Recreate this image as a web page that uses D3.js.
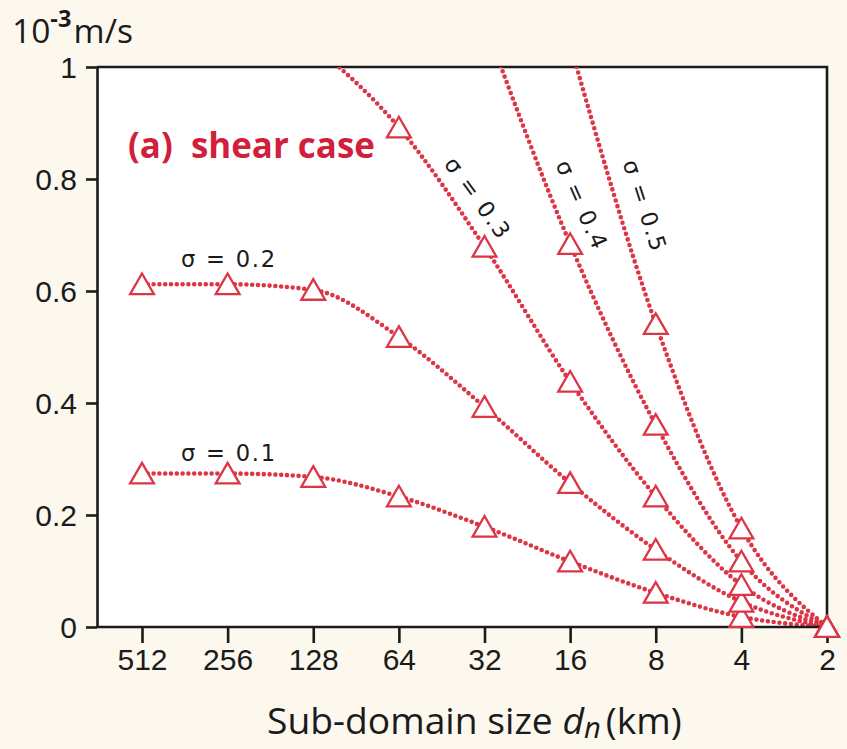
<!DOCTYPE html>
<html>
<head>
<meta charset="utf-8">
<script src="https://cdn.jsdelivr.net/npm/d3@7"></script>
<style>
  html, body { margin: 0; padding: 0; background: #fcf8ee; }
  svg { display: block; font-family: "Open Sans", "Noto Sans", sans-serif; }
  .axis path, .axis line { stroke: #1b1b1b; stroke-width: 2.6; }
  .axis text { font-size: 30px; fill: #1b1b1b; }
</style>
</head>
<body>
<script>
var width = 847, height = 749;

// sub-domain size d_n (km)
var sizes = [512, 256, 128, 64, 32, 16, 8, 4, 2];
var yTicks = [0, 0.2, 0.4, 0.6, 0.8, 1];

// velocity (10^-3 m/s) per sigma (values >1 run off the top)
var sig01 = [0.274, 0.274, 0.268, 0.233, 0.179, 0.117, 0.061, 0.018, 0];
var sig02 = [0.612, 0.612, 0.602, 0.518, 0.393, 0.257, 0.138, 0.045, 0];
var sig03 = [null, null, 1.04, 0.892, 0.679, 0.438, 0.233, 0.075, 0];
var sig04 = [null, null, null, null, 1.08, 0.684, 0.361, 0.117, 0];
var sig05 = [null, null, null, null, null, 1.04, 0.541, 0.176, 0];
// first index that gets a triangle marker
var markFrom = [0, 0, 3, 5, 6];
var seriesNames = ["σ = 0.1", "σ = 0.2", "σ = 0.3", "σ = 0.4", "σ = 0.5"];
var allSeries = [sig01, sig02, sig03, sig04, sig05];

var red = "#dc3545";

var svg = d3.select("body").append("svg")
    .attr("width", width)
    .attr("height", height);

svg.append("rect").attr("width", width).attr("height", height).attr("fill", "#fcf8ee");

var x = d3.scaleLog().base(2).domain([512, 2]).range([142, 827]);
var y = d3.scaleLinear().domain([0, 1]).range([627, 67]);
var left = 97, right = 827;

// scale a text uniformly about a point so that its width matches the picture
function fitTo(t, target, ox, oy){
    var w = t.node().getBBox().width;
    var k = target / w;
    t.attr("transform", "translate(" + ox + "," + oy + ") scale(" + k + ") translate(" + (-ox) + "," + (-oy) + ")");
}

// plot area
svg.append("rect")
    .attr("x", left).attr("y", y(1))
    .attr("width", right - left).attr("height", y(0) - y(1))
    .attr("fill", "white");

svg.append("clipPath").attr("id", "plotclip")
  .append("rect")
    .attr("x", left).attr("y", y(1))
    .attr("width", right - left).attr("height", y(0) - y(1));

// top and right frame
svg.append("path")
    .attr("d", "M" + left + "," + y(1) + "H" + right + "V" + y(0))
    .attr("fill", "none")
    .attr("stroke", "#1b1b1b")
    .attr("stroke-width", 2.6);

var line = d3.line()
    .defined(function(d){ return d.v != null; })
    .x(function(d){ return x(d.s); })
    .y(function(d){ return y(d.v); })
    .curve(d3.curveMonotoneX);

var lines = svg.append("g").attr("clip-path", "url(#plotclip)");
allSeries.forEach(function(vals){
    var pts = vals.map(function(v, i){ return {s: sizes[i], v: v}; });
    lines.append("path")
        .attr("d", line(pts))
        .attr("fill", "none")
        .attr("stroke", red)
        .attr("stroke-width", 4.6)
        .attr("stroke-linecap", "round")
        .attr("stroke-dasharray", "0,5.8");
});

// axes
var yAxis = d3.axisLeft(y).tickValues(yTicks).tickFormat(d3.format("~g"))
    .tickSize(11).tickSizeOuter(0).tickPadding(9);
svg.append("g").attr("class", "axis")
    .attr("transform", "translate(" + left + ",0)")
    .call(yAxis)
    .selectAll("text").attr("dy", "0.36em");

var xAxis = d3.axisBottom(x).tickValues(sizes).tickFormat(d3.format("d"))
    .tickSize(16).tickSizeOuter(0).tickPadding(6);
var gx = svg.append("g").attr("class", "axis")
    .attr("transform", "translate(0," + y(0) + ")")
    .call(xAxis);
gx.select(".domain").attr("d", "M" + left + ",0H" + right);

// triangle markers
var tri = d3.symbol().type(d3.symbolTriangle).size(245);
var marks = svg.append("g");
allSeries.forEach(function(vals, k){
    vals.forEach(function(v, i){
        if (v == null || i < markFrom[k]) return;
        marks.append("path")
            .attr("d", tri())
            .attr("transform", "translate(" + x(sizes[i]) + "," + (y(v) + 3) + ")")
            .attr("fill", "white")
            .attr("stroke", red)
            .attr("stroke-width", 2.3);
    });
});

// series labels
var labStyle = function(t){
    t.attr("font-family", "'DejaVu Sans', sans-serif")
     .attr("font-size", 23)
     .attr("letter-spacing", 1.8)
     .attr("fill", "#1b1b1b");
};
var l1 = svg.append("text").attr("x", 181).attr("y", 461).text(seriesNames[0]).call(labStyle);
var l2 = svg.append("text").attr("x", 181).attr("y", 267).text(seriesNames[1]).call(labStyle);
fitTo(l1, 96, 181, 461);
fitTo(l2, 96, 181, 267);
var rot = [[478, 198, 54], [582, 205, 66], [645, 206, 72]];
rot.forEach(function(r, i){
    var t = svg.append("text")
        .attr("text-anchor", "middle")
        .attr("dominant-baseline", "central")
        .text(seriesNames[i + 2])
        .call(labStyle);
    var k = 96 / t.node().getBBox().width;
    t.attr("transform", "translate(" + r[0] + "," + r[1] + ") rotate(" + r[2] + ") scale(" + k + ")");
});

// panel title
var title = svg.append("text")
    .attr("x", 128).attr("y", 158)
    .attr("font-size", 34)
    .attr("font-weight", "bold")
    .attr("fill", "#d21f3c")
    .attr("xml:space", "preserve")
    .text("(a)  shear case");
fitTo(title, 247, 128, 158);

// unit label
var unit = svg.append("text").attr("x", 12).attr("y", 43)
    .attr("font-size", 30).attr("fill", "#1b1b1b");
unit.append("tspan").text("10");
unit.append("tspan").attr("dy", -14).attr("font-size", 21).attr("font-weight", "bold").text("-3");
unit.append("tspan").attr("dy", 14).attr("dx", 2).text("m/s");
fitTo(unit, 121, 12, 43);

// x axis title
var xt = svg.append("text").attr("x", 267).attr("y", 734)
    .attr("font-size", 37).attr("fill", "#1b1b1b");
xt.append("tspan").text("Sub-domain size ");
xt.append("tspan").attr("font-style", "italic").text("d");
xt.append("tspan").attr("font-style", "italic").attr("font-size", 29).attr("dy", 4).text("n");
xt.append("tspan").attr("dy", -4).attr("dx", 5).text("(km)");
fitTo(xt, 415, 267, 734);
</script>
</body>
</html>
